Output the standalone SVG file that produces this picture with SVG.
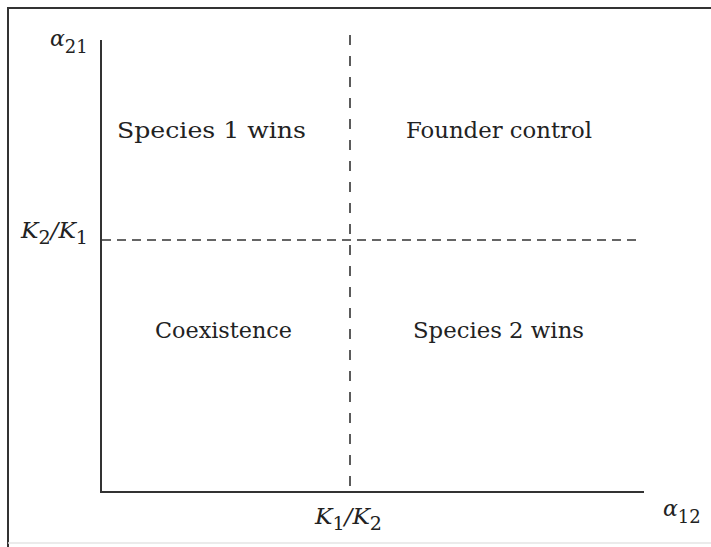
<svg xmlns="http://www.w3.org/2000/svg" width="711" height="547" viewBox="0 0 711 547">
<style>
.frame{stroke:#333;stroke-width:2;fill:none}
.axis{stroke:#333;stroke-width:2;fill:none}
.dashv{stroke:#333;stroke-width:1.6;stroke-dasharray:10 11;fill:none}
.dashh{stroke:#333;stroke-width:1.6;stroke-dasharray:9 6;fill:none}
.reg{font-family:"DejaVu Serif","Liberation Serif",serif;font-size:22px;fill:#222}
.lab{font-family:"DejaVu Serif","Liberation Serif",serif;font-style:italic;font-size:22px;fill:#222}
.sub{font-style:normal;font-size:18px}
</style>
<rect width="711" height="547" fill="#fff"/>
<g id="frame">
<line class="frame" x1="8" y1="8" x2="711" y2="8"/>
<line class="frame" x1="8" y1="7" x2="8" y2="547"/>
<line x1="8" y1="543" x2="711" y2="543" stroke="#e4e4e4" stroke-width="1.5"/>
</g>
<g id="connectors">
<line class="axis" x1="101" y1="40" x2="101" y2="492"/>
<line class="axis" x1="100" y1="492" x2="644" y2="492"/>
<line class="dashv" x1="350" y1="35" x2="350" y2="492"/>
<line class="dashh" x1="102" y1="240" x2="640" y2="240"/>
</g>
<g id="region-species1"><text class="reg" x="117" y="138" textLength="189" lengthAdjust="spacingAndGlyphs">Species 1 wins</text></g>
<g id="region-founder"><text class="reg" x="406" y="138" textLength="186" lengthAdjust="spacingAndGlyphs">Founder control</text></g>
<g id="region-coexistence"><text class="reg" x="155" y="338" textLength="137" lengthAdjust="spacingAndGlyphs">Coexistence</text></g>
<g id="region-species2"><text class="reg" x="413" y="338" textLength="171" lengthAdjust="spacingAndGlyphs">Species 2 wins</text></g>
<g id="label-a21"><text class="lab" x="50" y="46">α<tspan class="sub" dy="7">21</tspan></text></g>
<g id="label-k2k1"><text class="lab" x="21" y="238" textLength="67" lengthAdjust="spacingAndGlyphs">K<tspan class="sub" dy="6">2</tspan><tspan dy="-6">/K</tspan><tspan class="sub" dy="6">1</tspan></text></g>
<g id="label-k1k2"><text class="lab" x="315" y="524" textLength="67" lengthAdjust="spacingAndGlyphs">K<tspan class="sub" dy="6">1</tspan><tspan dy="-6">/K</tspan><tspan class="sub" dy="6">2</tspan></text></g>
<g id="label-a12"><text class="lab" x="663" y="516">α<tspan class="sub" dy="7">12</tspan></text></g>
</svg>
